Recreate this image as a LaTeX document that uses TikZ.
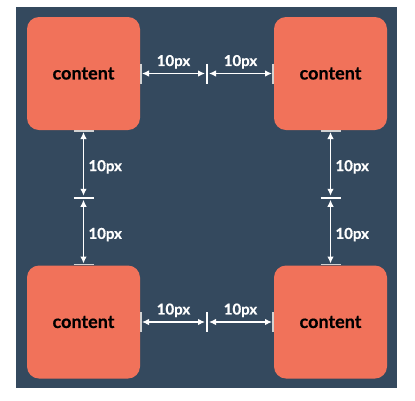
\documentclass[tikz,border=0pt]{standalone}
\usepackage{fontspec}
\setmainfont{Lato}[BoldFeatures={FakeBold=0.6}]
\usetikzlibrary{calc,arrows.meta}
\definecolor{slate}{HTML}{34495E}
\definecolor{salmon}{HTML}{F1725A}
\definecolor{tickgray}{HTML}{D2D2D2}
\begin{document}
\begin{tikzpicture}[x=1pt,y=-1pt,inner sep=0pt,outer sep=0pt,
    box/.style={fill=salmon, rounded corners=12pt, minimum width=113pt, minimum height=113pt,
        font=\fontsize{18}{21}\selectfont\bfseries},
    gap/.style={draw=white, line width=1.2pt, {Latex[length=7pt,width=6.5pt]}-{Latex[length=7pt,width=6.5pt]}},
    edgetick/.style={draw=tickgray, line width=1.5pt},
    midtick/.style={draw=white, line width=1.5pt},
    gaplabel/.style={text=white, font=\fontsize{15}{17}\selectfont\bfseries}]
    \useasboundingbox (0,0) rectangle (415,400);
    \fill[slate] (16,7) rectangle (397,388);

    % boxes
    \node[box] (box_tl) at (83.5,73.5) {content};
    \node[box] (box_tr) at (330.5,73.5) {content};
    \node[box] (box_bl) at (83.5,322) {content};
    \node[box] (box_br) at (330.5,322) {content};

    % middle of the gaps
    \coordinate (mid_top) at ($(box_tl.east)!0.5!(box_tr.west)$);
    \coordinate (mid_bot) at ($(box_bl.east)!0.5!(box_br.west)$);
    \coordinate (mid_left) at ($(box_tl.south)!0.5!(box_bl.north)$);
    \coordinate (mid_right) at ($(box_tr.south)!0.5!(box_br.north)$);

    % ticks, horizontal gaps
    \foreach \row in {tl,bl} {
        \draw[edgetick] ($(box_\row.east)+(1,-10)$) -- ($(box_\row.east)+(1,10)$);
    }
    \foreach \row in {tr,br} {
        \draw[edgetick] ($(box_\row.west)+(-1,-10)$) -- ($(box_\row.west)+(-1,10)$);
    }
    \foreach \m in {mid_top,mid_bot} {
        \draw[midtick] ($(\m)+(0,-10)$) -- ($(\m)+(0,10)$);
    }

    % ticks, vertical gaps
    \foreach \col in {tl,tr} {
        \draw[edgetick] ($(box_\col.south)+(-10,1)$) -- ($(box_\col.south)+(10,1)$);
    }
    \foreach \col in {bl,br} {
        \draw[edgetick] ($(box_\col.north)+(-10,-1)$) -- ($(box_\col.north)+(10,-1)$);
    }
    \foreach \m in {mid_left,mid_right} {
        \draw[midtick] ($(\m)+(-10,0)$) -- ($(\m)+(10,0)$);
    }

    % horizontal arrows
    \draw[gap] ($(box_tl.east)+(2,0)$) -- ($(mid_top)+(-2,0)$)
        node[midway, above=5pt, gaplabel] {10px};
    \draw[gap] ($(mid_top)+(2,0)$) -- ($(box_tr.west)+(-2,0)$)
        node[midway, above=5pt, gaplabel] {10px};
    \draw[gap] ($(box_bl.east)+(2,0)$) -- ($(mid_bot)+(-2,0)$)
        node[midway, above=5pt, gaplabel] {10px};
    \draw[gap] ($(mid_bot)+(2,0)$) -- ($(box_br.west)+(-2,0)$)
        node[midway, above=5pt, gaplabel] {10px};

    % vertical arrows
    \draw[gap] ($(box_tl.south)+(0,2)$) -- ($(mid_left)+(0,-2)$)
        node[midway, right=5pt, yshift=-3pt, gaplabel] {10px};
    \draw[gap] ($(mid_left)+(0,2)$) -- ($(box_bl.north)+(0,-2)$)
        node[midway, right=5pt, yshift=-3pt, gaplabel] {10px};
    \draw[gap] ($(box_tr.south)+(0,2)$) -- ($(mid_right)+(0,-2)$)
        node[midway, right=5pt, yshift=-3pt, gaplabel] {10px};
    \draw[gap] ($(mid_right)+(0,2)$) -- ($(box_br.north)+(0,-2)$)
        node[midway, right=5pt, yshift=-3pt, gaplabel] {10px};
\end{tikzpicture}
\end{document}
